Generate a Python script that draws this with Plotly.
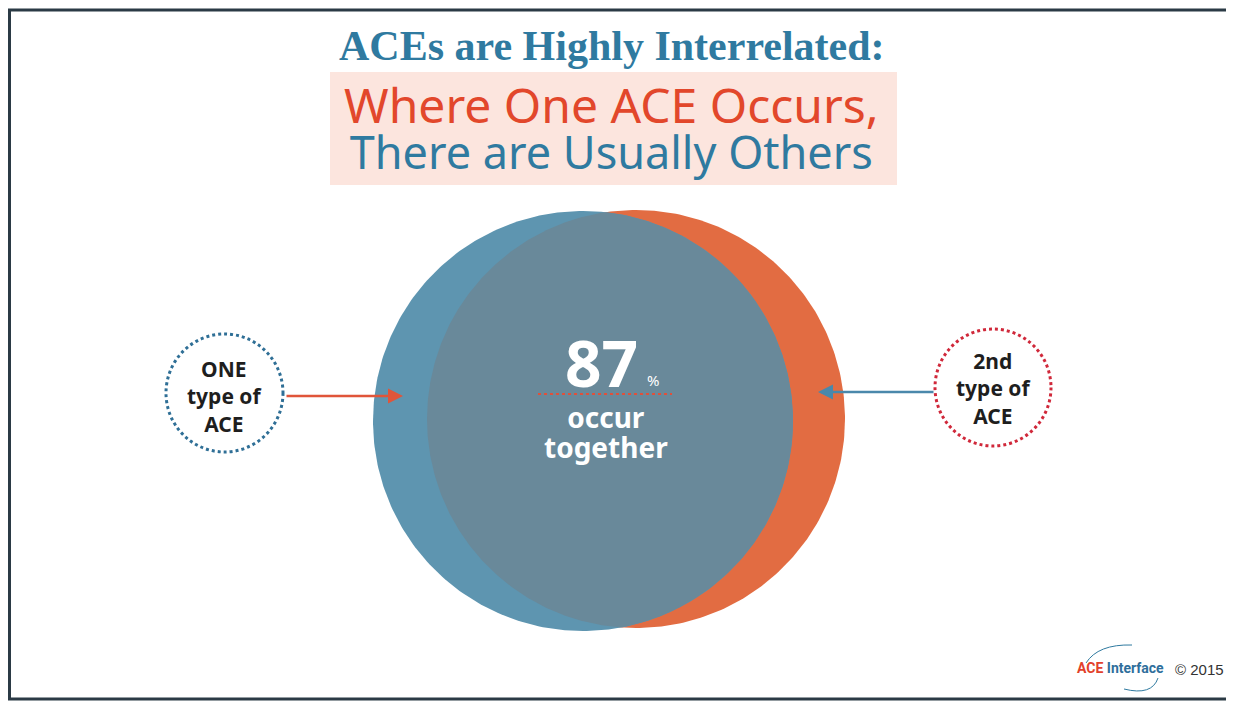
import numpy as np
import plotly.graph_objects as go

# content
title_text = "ACEs are Highly Interrelated:"
subtitle_lines = ["Where One ACE Occurs,", "There are Usually Others"]
left_label = ["ONE", "type of", "ACE"]
right_label = ["2nd", "type of", "ACE"]
overlap_pct = 87
overlap_caption = ["occur", "together"]
credit = "© 2015"

BLUE = "#5e95b0"
ORANGE = "#e26c42"
OVERLAP = "#69899a"
TEAL = "#2f7aa0"
RED = "#e2472b"

# the page body has an 8px margin, so the plot is shifted by 8px;
# axis ranges are offset so that data units equal screen pixels
OFF = 8
W, H = 1234, 703


def circle_xy(cx, cy, r, n=361):
    t = np.linspace(0, 2 * np.pi, n)
    return cx + r * np.cos(t), cy + r * np.sin(t)


def lens_xy(c1, c2, n=720):
    # polygon of the intersection of two circles
    (x1, y1, r1), (x2, y2, r2) = c1, c2
    t = np.linspace(0, 2 * np.pi, n, endpoint=False)
    ax, ay = x1 + r1 * np.cos(t), y1 + r1 * np.sin(t)
    bx, by = x2 + r2 * np.cos(t), y2 + r2 * np.sin(t)
    a_in = (ax - x2) ** 2 + (ay - y2) ** 2 <= r2 ** 2
    b_in = (bx - x1) ** 2 + (by - y1) ** 2 <= r1 ** 2
    px = np.concatenate([ax[a_in], bx[b_in]])
    py = np.concatenate([ay[a_in], by[b_in]])
    cx, cy = px.mean(), py.mean()
    order = np.argsort(np.arctan2(py - cy, px - cx))
    px, py = px[order], py[order]
    return np.append(px, px[0]), np.append(py, py[0])


def stacked(lines, px, bold=True):
    # lines share one text block; glyph size set per span, spacing by the base font
    out = []
    for s in lines:
        s = "<b>" + s + "</b>" if bold else s
        out.append("<span style='font-size:%dpx'>%s</span>" % (px, s))
    return "<br>".join(out)


blue_c = (583, 421, 210)
orange_c = (636, 419, 209)

fig = go.Figure()

ox, oy = circle_xy(*orange_c)
fig.add_trace(go.Scatter(x=ox, y=oy, fill="toself", fillcolor=ORANGE, mode="lines",
                         line=dict(width=0), hoverinfo="skip", showlegend=False))
bx, by = circle_xy(*blue_c)
fig.add_trace(go.Scatter(x=bx, y=by, fill="toself", fillcolor=BLUE, mode="lines",
                         line=dict(width=0), hoverinfo="skip", showlegend=False))
lx, ly = lens_xy(blue_c, orange_c)
fig.add_trace(go.Scatter(x=lx, y=ly, fill="toself", fillcolor=OVERLAP, mode="lines",
                         line=dict(width=0), hoverinfo="skip", showlegend=False))

shapes = [
    # frame
    dict(type="rect", x0=9.5, x1=1230, y0=10, y1=699, line=dict(color="#2b3a45", width=3)),
    # pink banner
    dict(type="rect", x0=330, x1=897, y0=72, y1=185, fillcolor="#fce5de", line=dict(width=0),
         layer="below"),
    # dotted label circles
    dict(type="circle", x0=166, x1=283, y0=334, y1=452, line=dict(color="#2f6f96", width=3, dash="dot")),
    dict(type="circle", x0=935, x1=1051, y0=329, y1=446, line=dict(color="#d0283a", width=3, dash="dot")),
    # dotted rule under the percentage
    dict(type="line", x0=538, x1=672, y0=394, y1=394, line=dict(color="#e0503a", width=2, dash="dot")),
    # logo arcs
    dict(type="path", path="M 1086,663 Q 1098,644 1132,645", line=dict(color="#2f7aa0", width=1)),
    dict(type="path", path="M 1124,689 Q 1152,696 1158,678", line=dict(color="#2f7aa0", width=1)),
]

subtitle = ("<span style='font-size:48px;color:%s'>%s</span><br>"
            "<span style='font-size:45px;color:%s'>%s</span>"
            % (RED, subtitle_lines[0], TEAL, subtitle_lines[1]))

annotations = [
    dict(x=612, y=46, text="<b>" + title_text + "</b>", showarrow=False,
         font=dict(family="Liberation Serif", size=42, color=TEAL)),
    dict(x=611, y=127, text=subtitle, showarrow=False,
         font=dict(family="Noto Sans", size=35, color=TEAL)),
    dict(x=601, y=362, text="<b>%d</b>" % overlap_pct, showarrow=False,
         font=dict(family="Noto Sans", size=64, color="white")),
    dict(x=653, y=380, text="%", showarrow=False,
         font=dict(family="Noto Sans", size=15, color="white")),
    dict(x=606, y=432, text=stacked(overlap_caption, 28), showarrow=False,
         font=dict(family="Noto Sans", size=23, color="white")),
    dict(x=224, y=396, text="<b>" + "<br>".join(left_label) + "</b>", showarrow=False,
         font=dict(family="Noto Sans", size=21, color="#1e1e1e")),
    dict(x=993, y=388, text="<b>" + "<br>".join(right_label) + "</b>", showarrow=False,
         font=dict(family="Noto Sans", size=21, color="#1e1e1e")),
    # arrows
    dict(x=403, y=396, ax=285, ay=396, xref="x", yref="y", axref="x", ayref="y",
         text="", showarrow=True, arrowhead=2, arrowsize=1.2, arrowwidth=2.5, arrowcolor="#e0553a"),
    dict(x=818, y=392, ax=935, ay=392, xref="x", yref="y", axref="x", ayref="y",
         text="", showarrow=True, arrowhead=2, arrowsize=1.2, arrowwidth=2.5, arrowcolor="#4a88ab"),
    # logo + credit
    dict(x=1075, y=668, xanchor="left", showarrow=False,
         text="<b><span style='color:#e2412b'>ACE</span> <span style='color:#2f6f9c'>Interface</span></b>",
         font=dict(family="Roboto", size=14)),
    dict(x=1226, y=669, xanchor="right", text=credit, showarrow=False,
         font=dict(family="Liberation Sans", size=15, color="#333333")),
]

fig.update_layout(
    width=W - OFF, height=H - OFF,
    margin=dict(l=0, r=0, t=0, b=0),
    paper_bgcolor="white", plot_bgcolor="white",
    shapes=shapes, annotations=annotations,
    xaxis=dict(range=[OFF, W], visible=False, fixedrange=True),
    yaxis=dict(range=[H, OFF], visible=False, fixedrange=True),
    showlegend=False,
)

fig.write_html("out.html")
